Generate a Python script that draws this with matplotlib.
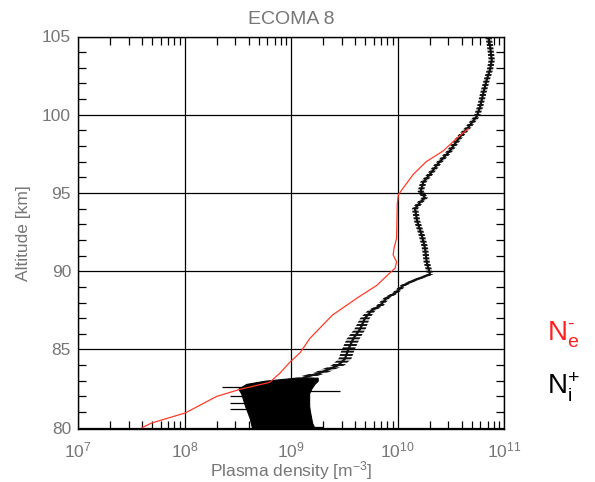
import numpy as np
import matplotlib
matplotlib.use("Agg")
import matplotlib.pyplot as plt
from matplotlib.ticker import MultipleLocator, LogLocator

# ---- data ----
# Electron density (red line)
ne_alt = [80.0, 80.3, 80.95, 82.0, 82.45, 82.9, 83.5, 84.2, 84.8, 85.7, 87.2,
          88.3, 89.1, 89.9, 90.2, 90.6, 91.05, 91.5, 92.1, 94.3, 94.9, 95.35,
          96.2, 97.0, 97.7, 98.5, 99.1]
ne_val = [3.98e7, 4.9e7, 1.02e8, 2.0e8, 3.3e8, 6.3e8, 7.9e8, 9.8e8, 1.22e9,
          1.5e9, 2.45e9, 4.2e9, 6.4e9, 8.5e9, 9.5e9, 9.8e9, 9.1e9, 9.3e9,
          9.8e9, 9.95e9, 1.02e10, 1.14e10, 1.41e10, 1.86e10, 2.7e10, 3.6e10,
          4.6e10]

# Positive ion density (black profile) above 83 km: centre and spread factor
ni_alt = [83.2, 83.5, 84.0, 84.4, 85.0, 85.7, 86.3, 87.0, 87.5, 87.8, 88.3,
          88.6, 89.1, 89.4, 89.8, 90.6, 91.5, 92.3, 93.2, 94.0, 94.4, 94.7,
          95.1, 95.7, 96.2, 96.9, 97.7, 98.6, 99.2, 99.9, 100.5, 101.4, 102.2,
          102.9, 103.5, 104.4, 105.0]
ni_val = [1.31e9, 1.87e9, 2.78e9, 3.21e9, 3.45e9, 3.85e9, 4.45e9, 4.95e9,
          5.73e9, 6.85e9, 7.93e9, 9.5e9, 1.135e10, 1.41e10, 2.02e10, 1.88e10,
          1.81e10, 1.69e10, 1.53e10, 1.46e10, 1.63e10, 1.81e10, 1.65e10,
          1.75e10, 2.02e10, 2.42e10, 3.11e10, 3.86e10, 4.62e10, 5.55e10,
          5.96e10, 6.4e10, 6.87e10, 7.4e10, 7.67e10, 7.4e10, 7.13e10]
ni_spread = [1.2, 1.16, 1.15, 1.15, 1.15, 1.15, 1.13, 1.11, 1.09, 1.08, 1.07,
             1.07, 1.07, 1.07, 1.07, 1.07, 1.07, 1.07, 1.07, 1.07, 1.07, 1.07,
             1.07, 1.07, 1.07, 1.07, 1.07, 1.07, 1.07, 1.07, 1.07, 1.07, 1.07,
             1.07, 1.07, 1.07, 1.07]

# Noisy ion block below 83 km: left and right extents
blk_alt = [80.0, 80.3, 80.6, 81.0, 81.4, 81.8, 82.2, 82.5, 82.8, 83.0, 83.2]
blk_lo = [4.3e8, 4.2e8, 4.1e8, 3.9e8, 3.7e8, 3.55e8, 3.4e8, 3.2e8, 3.8e8,
          5.6e8, 1.1e9]
blk_hi = [1.66e9, 1.58e9, 1.55e9, 1.51e9, 1.48e9, 1.48e9, 1.48e9, 1.55e9,
          1.66e9, 1.78e9, 1.78e9]

# Individual noise spikes in the ion block
spk_alt = [82.6, 82.35, 82.0, 81.6, 81.2, 80.05]
spk_lo = [2.25e8, 1.26e9, 2.7e8, 2.7e8, 2.65e8, 1.26e9]
spk_hi = [4.0e8, 2.9e9, 4.0e8, 4.0e8, 4.0e8, 2.0e9]

x_ticks = [1e7, 1e8, 1e9, 1e10, 1e11]
y_ticks = [80, 85, 90, 95, 100, 105]

# ---- plot ----
plt.rcParams['font.family'] = ['Liberation Sans', 'DejaVu Sans']
plt.rcParams['mathtext.fontset'] = 'custom'
plt.rcParams['mathtext.rm'] = 'Liberation Sans'
plt.rcParams['mathtext.it'] = 'Liberation Sans'
plt.rcParams['hatch.linewidth'] = 1.4
gray = '#767676'

fig = plt.figure(figsize=(5.95, 4.82), dpi=100)
ax = fig.add_axes([78/595, 1 - 429/482, (504-78)/595, (429-36.5)/482])

ax.set_xscale('log')
ax.set_xlim(1e7, 1e11)
ax.set_ylim(79.92, 105)

# ion block
ax.fill_betweenx(blk_alt, blk_lo, blk_hi, color='black', lw=0.8, zorder=3)
ax.hlines(spk_alt, spk_lo, spk_hi, color='black', lw=0.9, zorder=3)

# ion profile as hatched band (horizontal dashes) plus centre line
ni_v = np.array(ni_val)
ni_s = np.array(ni_spread)
ax.fill_betweenx(ni_alt, ni_v / ni_s, ni_v * ni_s, facecolor='none',
                 edgecolor='#111111', hatch='-----', lw=0, zorder=3)
ax.plot(ni_val, ni_alt, color='#111111', lw=1.6, zorder=3)

# electron line
ax.plot(ne_val, ne_alt, color='#ff3b28', lw=0.9, zorder=4)

ax.set_xticks(x_ticks)
ax.set_yticks(y_ticks)
ax.xaxis.set_minor_locator(LogLocator(base=10, subs=np.arange(2, 10), numticks=20))
ax.yaxis.set_minor_locator(MultipleLocator(1))
ax.grid(which='major', color='black', lw=0.9)
ax.tick_params(which='major', length=0, labelcolor=gray, labelsize=12.5)
ax.tick_params(axis='x', which='major', pad=8)
ax.tick_params(axis='y', which='major', pad=5)
ax.tick_params(which='minor', direction='in', length=6, width=0.9,
               top=True, right=True, bottom=True, left=True, color='black')
for s in ax.spines.values():
    s.set_linewidth(1.0)

ax.set_title('ECOMA 8', color=gray, fontsize=14, pad=9)
ax.set_xlabel(r'Plasma density [m$^{-3}$]', color=gray, fontsize=12.5, labelpad=-1)
ax.set_ylabel('Altitude [km]', color=gray, fontsize=12.5, labelpad=8)

def px(x, y):
    return x / 595, 1 - y / 482

fig.text(*px(547, 340), 'N$_\\mathregular{e}^\\mathregular{\u2010}$', color='#ff2020',
         fontsize=20, va='baseline', ha='left')
fig.text(*px(547, 394), 'N$_\\mathregular{i}^\\mathregular{+}$', color='black',
         fontsize=20, va='baseline', ha='left')

fig.savefig('out.png', dpi=100)
